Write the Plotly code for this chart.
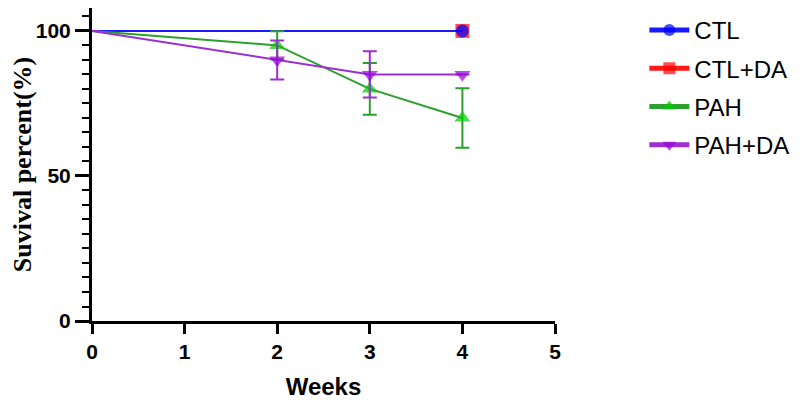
import plotly.graph_objects as go

weeks = [0, 2, 3, 4]
ctl = [100, 100, 100, 100]
ctl_da = [100, 100, 100, 100]
pah = [100, 95, 80, 70]
pah_err = [0, 4.87, 8.94, 10.25]
pah_da = [100, 90, 85, 85]
pah_da_err = [0, 6.71, 7.98, 0]

x_ticks = [0, 1, 2, 3, 4, 5]
y_ticks = [0, 50, 100]

fig = go.Figure()

def add(name, y, line_col, mk_col, symbol, sizes, err=None, rank=1):
    fig.add_trace(go.Scatter(
        x=weeks, y=y, name=name, mode="lines+markers",
        line=dict(color=line_col, width=2),
        marker=dict(color=mk_col, symbol=symbol, size=sizes, line=dict(width=0)),
        error_y=(dict(type="data", array=err, visible=True, color=line_col,
                      thickness=2, width=7) if err is not None else None),
        legendgroup=name, legendrank=rank, cliponaxis=False,
    ))

add("CTL+DA", ctl_da, "#ff1a1a", "#ff0000", "square", [0, 0, 0, 14], rank=2)
add("CTL", ctl, "#1a1aff", "#0000ff", "circle", [0, 0, 0, 13], rank=1)
add("PAH", pah, "#2ca02c", "#00cc00", "triangle-up", [0, 14, 14, 14], pah_err, rank=3)
add("PAH+DA", pah_da, "#9b2fd0", "#9900dd", "triangle-down", [0, 14, 14, 14], pah_da_err, rank=4)

fig.update_layout(
    width=800, height=403,
    margin=dict(l=84, r=253, t=0, b=90),
    plot_bgcolor="white", paper_bgcolor="white",
    showlegend=True,
    legend=dict(x=1.193, y=1.0, xanchor="left", yanchor="top",
                font=dict(family="Liberation Sans, Arial", size=24, color="black"),
                tracegroupgap=4, itemsizing="constant", itemwidth=40,
                bgcolor="rgba(0,0,0,0)"),
    xaxis=dict(range=[0, 5], tickvals=x_ticks, ticktext=[str(v) for v in x_ticks],
               automargin=False,
               showgrid=False, zeroline=False, showline=True, linecolor="black", linewidth=3,
               ticks="outside", ticklen=10, tickwidth=3, tickcolor="black",
               tickfont=dict(family="Liberation Sans, Arial", size=21, color="black", weight="bold"),
               title=dict(text="<b>Weeks</b>", font=dict(family="Liberation Sans, Arial", size=24, color="black"),
                          standoff=16)),
    yaxis=dict(range=[0, 107.9], tickvals=y_ticks, ticktext=[str(v) for v in y_ticks],
               automargin=False,
               showgrid=False, zeroline=False, showline=True, linecolor="black", linewidth=3,
               ticks="outside", ticklen=14, tickwidth=3, tickcolor="black",
               minor=dict(dtick=5, ticklen=7, tickwidth=2, tickcolor="black", ticks="outside", showgrid=False),
               tickfont=dict(family="Liberation Sans, Arial", size=21, color="black", weight="bold"),
               title=dict(text="<b>Suvival percent(%)</b>",
                          font=dict(family="Liberation Serif, Times New Roman", size=26, color="black"),
                          standoff=0)),
)

fig.write_html("out.html")
